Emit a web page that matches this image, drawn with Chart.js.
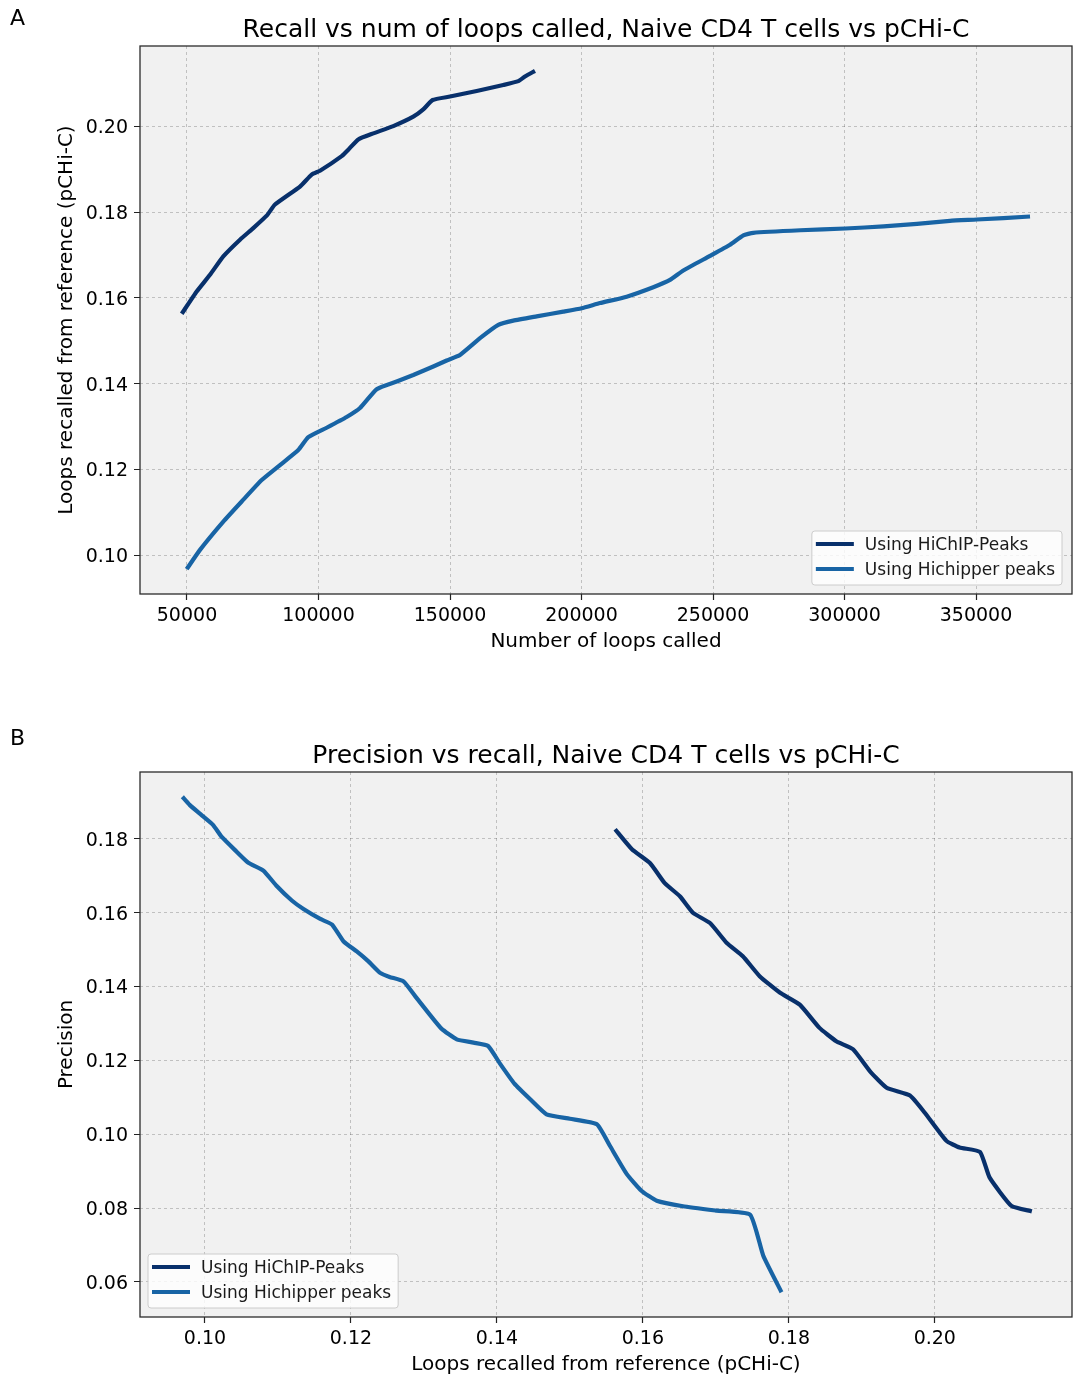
<!DOCTYPE html>
<html>
<head>
<meta charset="utf-8">
<title>HiChIP loop calling: recall and precision</title>
<script src="https://cdn.jsdelivr.net/npm/chart.js@4.4.0/dist/chart.umd.min.js"></script>
<style>
  html, body { margin: 0; padding: 0; background: #ffffff; overflow: hidden; }
  canvas { display: block; }
</style>
</head>
<body>
<canvas id="recallChart" width="1076" height="689"></canvas>
<canvas id="prChart" width="1076" height="688"></canvas>
<script>
// ---- Panel A: recall vs number of loops called ----
const loopsHichipPeaks = [47985, 53690, 58750, 63800, 70150, 75200, 80300, 83460, 92970, 97400,
  100570, 108820, 111330, 115130, 120830, 128440, 136040, 139840, 143400, 150000,
  160150, 170260, 175970, 178500, 182300];
const recallHichipPeaks = [0.1563, 0.1615, 0.1654, 0.1697, 0.1736, 0.1763, 0.1792, 0.1818, 0.1860, 0.1888,
  0.1897, 0.1931, 0.1946, 0.1970, 0.1984, 0.2001, 0.2023, 0.2040, 0.2062, 0.2070,
  0.2083, 0.2097, 0.2106, 0.2117, 0.2130];

const loopsHichipper = [49880, 54940, 63800, 70800, 78400, 85360, 92320, 96120, 103100, 110700,
  115780, 122120, 129730, 136040, 143650, 148740, 153800, 161410, 168370, 174070,
  182950, 193080, 200060, 207030, 217170, 227290, 233650, 238700, 248860, 256460,
  261530, 265330, 283200, 300300, 314880, 327560, 340100, 350270, 370540];
const recallHichipper = [0.0967, 0.1012, 0.1078, 0.1125, 0.1175, 0.1210, 0.1245, 0.1275, 0.1297, 0.1322,
  0.1343, 0.1387, 0.1405, 0.1420, 0.1440, 0.1454, 0.1467, 0.1506, 0.1537, 0.1547,
  0.1557, 0.1568, 0.1576, 0.1588, 0.1603, 0.1625, 0.1642, 0.1664, 0.1698, 0.1724,
  0.1746, 0.1752, 0.1758, 0.1762, 0.1767, 0.1773, 0.1780, 0.1783, 0.1790];

const loopTicks = [50000, 100000, 150000, 200000, 250000, 300000, 350000];
const recallTicksA = [0.10, 0.12, 0.14, 0.16, 0.18, 0.20];

// ---- Panel B: precision vs recall ----
const prRecallHichipPeaks = [0.1562, 0.1585, 0.1610, 0.1630, 0.1651, 0.1669, 0.1692, 0.1715, 0.1737, 0.1760,
  0.1788, 0.1815, 0.1842, 0.1865, 0.1888, 0.1911, 0.1934, 0.1966, 0.1986, 0.2016,
  0.2034, 0.2062, 0.2075, 0.2105, 0.2133];
const precisionHichipPeaks = [0.1826, 0.1772, 0.1734, 0.1680, 0.1644, 0.1599, 0.1572, 0.1518, 0.1482, 0.1428,
  0.1383, 0.1351, 0.1288, 0.1252, 0.1230, 0.1171, 0.1126, 0.1105, 0.1059, 0.0982,
  0.0964, 0.0952, 0.0883, 0.0806, 0.0791];

const prRecallHichipper = [0.0969, 0.0979, 0.0995, 0.1011, 0.1023, 0.1043, 0.1059, 0.1080, 0.1098, 0.1119,
  0.1135, 0.1158, 0.1174, 0.1190, 0.1208, 0.1224, 0.1240, 0.1253, 0.1272, 0.1288,
  0.1308, 0.1324, 0.1345, 0.1368, 0.1388, 0.1404, 0.1424, 0.1446, 0.1468, 0.1500,
  0.1537, 0.1555, 0.1578, 0.1598, 0.1619, 0.1655, 0.1701, 0.1747, 0.1765, 0.1790];
const precisionHichipper = [0.1914, 0.1892, 0.1865, 0.1838, 0.1805, 0.1766, 0.1736, 0.1714, 0.1673, 0.1633,
  0.1610, 0.1583, 0.1568, 0.1522, 0.1495, 0.1468, 0.1437, 0.1426, 0.1414, 0.1374,
  0.1324, 0.1286, 0.1257, 0.1248, 0.1239, 0.1192, 0.1137, 0.1094, 0.1054, 0.1042,
  0.1027, 0.0968, 0.0892, 0.0847, 0.0820, 0.0805, 0.0793, 0.0782, 0.0671, 0.0572];

const recallTicksB = [0.10, 0.12, 0.14, 0.16, 0.18, 0.20];
const precisionTicks = [0.06, 0.08, 0.10, 0.12, 0.14, 0.16, 0.18];

const seriesLabels = ['Using HiChIP-Peaks', 'Using Hichipper peaks'];
const seriesColors = ['#08306b', '#1864a5'];

const FONT = '"DejaVu Sans", "Liberation Sans", sans-serif';

function toPoints(xs, ys) {
  return xs.map((x, i) => ({ x: x, y: ys[i] }));
}

// Axes background, frame, title, panel letter and an in-plot legend
const panelDecor = {
  id: 'panelDecor',
  beforeDraw(chart, args, opts) {
    const { ctx, chartArea: a } = chart;
    ctx.save();
    ctx.fillStyle = '#f1f1f1';
    ctx.fillRect(a.left, a.top, a.right - a.left, a.bottom - a.top);
    ctx.restore();
  },
  afterDraw(chart, args, opts) {
    const { ctx, chartArea: a } = chart;
    ctx.save();
    ctx.setLineDash([]);
    ctx.strokeStyle = '#2b2b2b';
    ctx.lineWidth = 1.3;
    ctx.strokeRect(a.left, a.top, a.right - a.left, a.bottom - a.top);

    ctx.fillStyle = '#000';
    ctx.font = '25px ' + FONT;
    ctx.textAlign = 'center';
    ctx.textBaseline = 'middle';
    ctx.fillText(opts.title, (a.left + a.right) / 2, opts.titleY);
    ctx.font = '22px ' + FONT;
    ctx.textAlign = 'left';
    ctx.fillText(opts.letter, opts.letterX, opts.letterY);

    // legend
    ctx.font = '17px ' + FONT;
    const ds = chart.data.datasets;
    let textW = 0;
    ds.forEach(d => { textW = Math.max(textW, ctx.measureText(d.label).width); });
    const padL = 4, lineLen = 38, gap = 11, padR = 7, rowH = 25, padT = 13;
    const w = padL + lineLen + gap + textW + padR;
    const h = 54;
    const lg = opts.legend;
    const bx = lg.side === 'right' ? lg.x - w : lg.x;
    const by = lg.bottom - h;
    ctx.beginPath();
    if (ctx.roundRect) ctx.roundRect(bx, by, w, h, 3); else ctx.rect(bx, by, w, h);
    ctx.fillStyle = 'rgba(255,255,255,0.8)';
    ctx.fill();
    ctx.strokeStyle = '#cccccc';
    ctx.lineWidth = 1;
    ctx.stroke();
    ds.forEach((d, i) => {
      const cy = by + padT + i * rowH;
      ctx.strokeStyle = d.borderColor;
      ctx.lineWidth = 4;
      ctx.lineCap = 'butt';
      ctx.beginPath();
      ctx.moveTo(bx + padL, cy);
      ctx.lineTo(bx + padL + lineLen, cy);
      ctx.stroke();
      ctx.fillStyle = '#1a1a1a';
      ctx.textBaseline = 'middle';
      ctx.fillText(d.label, bx + padL + lineLen + gap, cy + 2);
    });
    ctx.restore();
  }
};

function axis(horizontal, min, max, tickValues, fmt, titleText) {
  return {
    type: 'linear',
    min: min,
    max: max,
    afterBuildTicks: s => { s.ticks = tickValues.map(v => ({ value: v })); },
    afterFit: s => {
      if (horizontal) s.height = 60; else s.width = 140;
    },
    grid: {
      color: 'rgba(0,0,0,0.2)',
      lineWidth: 1,
      drawTicks: true,
      tickLength: 6,
      tickColor: '#222',
      tickWidth: 1.2,
      tickBorderDash: [1, 0]
    },
    border: { display: false, dash: [3, 3] },
    ticks: {
      color: '#000',
      font: { family: FONT, size: 19 },
      padding: horizontal ? 5 : 6,
      labelOffset: horizontal ? 0 : 2,
      maxRotation: 0,
      autoSkip: false,
      callback: fmt
    },
    title: {
      display: true,
      text: titleText,
      color: '#000',
      font: { family: FONT, size: 20 },
      padding: horizontal ? { top: 0, bottom: 0 } : { top: 55, bottom: 0 }
    }
  };
}

function lineSet(label, color, pts) {
  return {
    label: label,
    data: pts,
    borderColor: color,
    backgroundColor: color,
    borderWidth: 4.2,
    pointRadius: 0,
    fill: false,
    tension: 0.15,
    borderCapStyle: 'butt',
    borderJoinStyle: 'round'
  };
}

Chart.defaults.font.family = FONT;
Chart.defaults.animation = false;

new Chart(document.getElementById('recallChart'), {
  type: 'line',
  data: {
    datasets: [
      lineSet(seriesLabels[0], seriesColors[0], toPoints(loopsHichipPeaks, recallHichipPeaks)),
      lineSet(seriesLabels[1], seriesColors[1], toPoints(loopsHichipper, recallHichipper))
    ]
  },
  options: {
    responsive: false,
    animation: false,
    layout: { padding: { top: 46, bottom: 35, left: 0, right: 4 } },
    plugins: {
      legend: { display: false },
      tooltip: { enabled: false },
      panelDecor: {
        title: 'Recall vs num of loops called, Naive CD4 T cells vs pCHi-C',
        titleY: 30, letter: 'A', letterX: 10, letterY: 19,
        legend: { side: 'right', x: 1062, bottom: 585 }
      }
    },
    scales: {
      x: axis(true, 32130, 386500, loopTicks, v => String(v), 'Number of loops called'),
      y: axis(false, 0.0909, 0.2188, recallTicksA, v => v.toFixed(2), 'Loops recalled from reference (pCHi-C)')
    }
  },
  plugins: [panelDecor]
});

new Chart(document.getElementById('prChart'), {
  type: 'line',
  data: {
    datasets: [
      lineSet(seriesLabels[0], seriesColors[0], toPoints(prRecallHichipPeaks, precisionHichipPeaks)),
      lineSet(seriesLabels[1], seriesColors[1], toPoints(prRecallHichipper, precisionHichipper))
    ]
  },
  options: {
    responsive: false,
    animation: false,
    layout: { padding: { top: 83, bottom: 0, left: 0, right: 4 } },
    plugins: {
      legend: { display: false },
      tooltip: { enabled: false },
      panelDecor: {
        title: 'Precision vs recall, Naive CD4 T cells vs pCHi-C',
        titleY: 67, letter: 'B', letterX: 10, letterY: 50,
        legend: { side: 'left', x: 148, bottom: 619 }
      }
    },
    scales: {
      x: axis(true, 0.0911, 0.2188, recallTicksB, v => v.toFixed(2), 'Loops recalled from reference (pCHi-C)'),
      y: axis(false, 0.0505, 0.1981, precisionTicks, v => v.toFixed(2), 'Precision')
    }
  },
  plugins: [panelDecor]
});
</script>
</body>
</html>
